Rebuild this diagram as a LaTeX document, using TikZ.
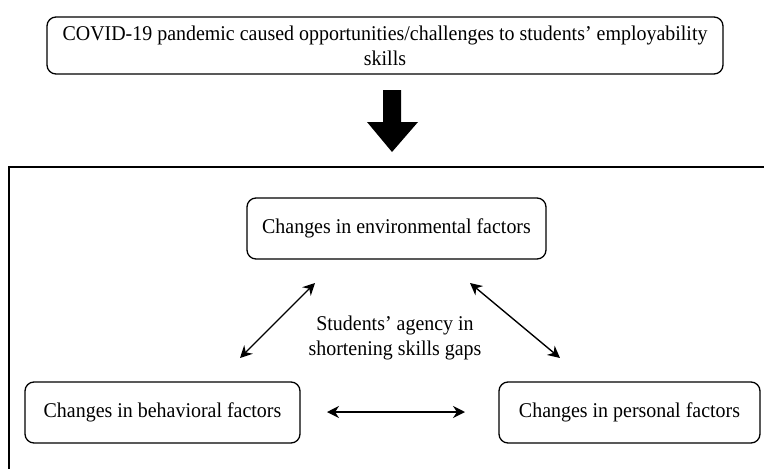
\documentclass[tikz,border=0pt]{standalone}
\usepackage{fontspec}
\setmainfont{Liberation Serif}[FakeStretch=0.95]
\usetikzlibrary{arrows.meta}
\begin{document}
\begin{tikzpicture}[x=1pt,y=-1pt,
  box/.style={draw,line width=1.3pt,rounded corners=9pt,inner sep=0pt,align=center,font=\fontsize{21}{25}\selectfont},
  link/.style={line width=1.4pt,{Stealth[length=12pt,width=12pt]}-{Stealth[length=12pt,width=12pt]}}]
\useasboundingbox (0,0) rectangle (764,469);
\clip (0,0) rectangle (764,469);
% top box
\node[box,minimum width=676pt,minimum height=57pt] (top) at (385,45.5)
  {COVID-19 pandemic caused opportunities/challenges to students’ employability\\skills};
% block arrow
\fill (383,90) -- (401,90) -- (401,122) -- (418,122) -- (392,152) -- (367,122) -- (383,122) -- cycle;
% outer frame (open to right and bottom)
\draw[line width=1.3pt] (9,480) -- (9,167) -- (780,167);
% factor boxes
\node[box,minimum width=299pt,minimum height=61pt] (env) at (396.5,228.5) {Changes in environmental factors};
\node[box,minimum width=275pt,minimum height=61pt] (beh) at (162.5,412.5) {Changes in behavioral factors};
\node[box,minimum width=261pt,minimum height=61pt] (per) at (629.5,412.5) {Changes in personal factors};
% centre label
\node[align=center,font=\fontsize{21}{25}\selectfont,inner sep=0pt] (agency) at (395,337.5) {Students’ agency in\\shortening skills gaps};
% arrow end points
\coordinate (l1) at (315,283);
\coordinate (l2) at (240,358);
\coordinate (r1) at (470,283);
\coordinate (r2) at (560,358);
\coordinate (h1) at (327,412);
\coordinate (h2) at (465,412);
\draw[link] (l1) -- (l2);
\draw[link] (r1) -- (r2);
\draw[link] (h1) -- (h2);
\end{tikzpicture}
\end{document}
